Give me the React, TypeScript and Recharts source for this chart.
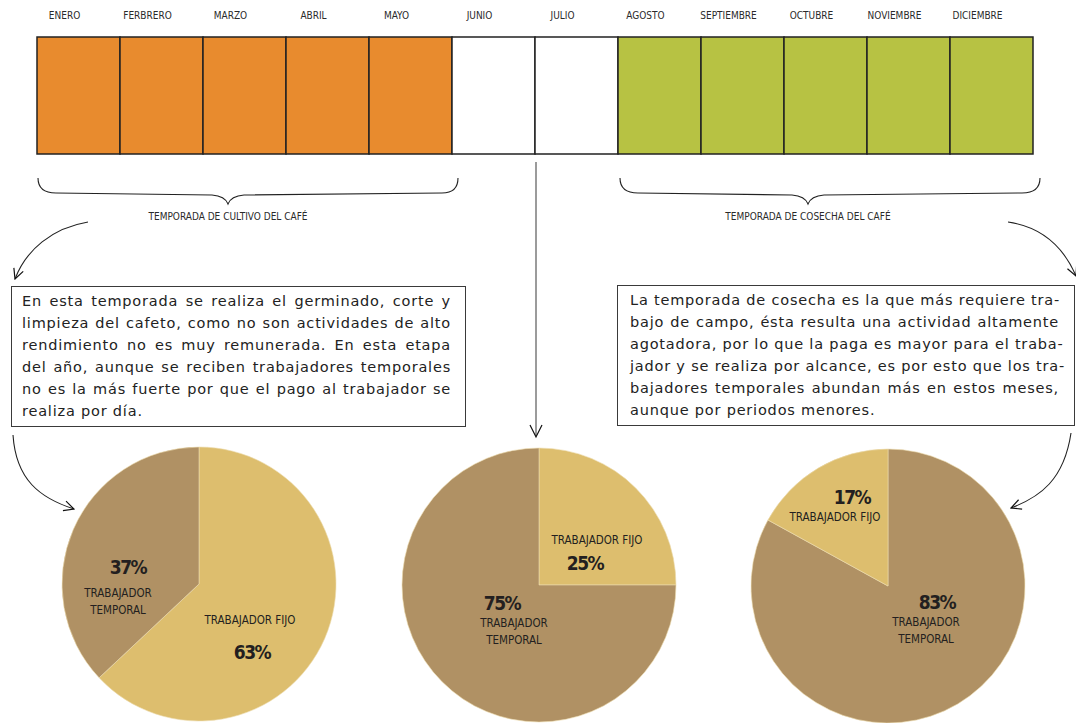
import { Bar, BarChart, Cell, Pie, PieChart, XAxis, YAxis } from "recharts";

// meses y temporada de cada uno
const months = [
  "ENERO", "FERBRERO", "MARZO", "ABRIL", "MAYO", "JUNIO",
  "JULIO", "AGOSTO", "SEPTIEMBRE", "OCTUBRE", "NOVIEMBRE", "DICIEMBRE"
];
const monthSeason = [
  "cultivo", "cultivo", "cultivo", "cultivo", "cultivo", "ninguna",
  "ninguna", "cosecha", "cosecha", "cosecha", "cosecha", "cosecha"
];
const monthSpan = [1, 1, 1, 1, 1, 1, 1, 1, 1, 1, 1, 1];

const workerTypes = ["TRABAJADOR FIJO", "TRABAJADOR TEMPORAL"];
const cultivoShare = [63, 37];
const transicionShare = [25, 75];
const cosechaShare = [17, 83];

const seasonLabels = ["TEMPORADA DE CULTIVO DEL CAFÉ", "TEMPORADA DE COSECHA DEL CAFÉ"];

const cultivoText = [
  "En esta temporada se realiza el germinado, corte y",
  "limpieza del cafeto, como no son actividades de alto",
  "rendimiento no es muy remunerada. En esta etapa",
  "del año, aunque se reciben trabajadores temporales",
  "no es la más fuerte por que el pago al trabajador se",
  "realiza por día."
];
const cosechaText = [
  "La temporada de cosecha es la que más requiere tra-",
  "bajo de campo, ésta resulta una actividad altamente",
  "agotadora, por lo que la paga es mayor para el traba-",
  "jador y se realiza por alcance, es por esto que los tra-",
  "bajadores temporales abundan más en estos meses,",
  "aunque por periodos menores."
];

const seasonColor: Record<string, string> = {
  cultivo: "#e88b2e",
  ninguna: "#ffffff",
  cosecha: "#b7c243"
};
const FIJO = "#ddbe6e";
const TEMPORAL = "#b09164";
const HAND = '"DejaVu Sans Condensed", "Liberation Sans Narrow", sans-serif';
const BODY = '"DejaVu Sans", "Liberation Sans", sans-serif';

const monthData = months.map((m, i) => ({ month: m, span: monthSpan[i], season: monthSeason[i] }));

function pieData(share: number[], fijoFirst: boolean) {
  const rows = workerTypes.map((name, i) => ({ name, value: share[i], fill: i === 0 ? FIJO : TEMPORAL }));
  return fijoFirst ? rows : rows.slice().reverse();
}

const pies = [
  {
    key: "cultivo", cx: 199, cy: 144, data: pieData(cultivoShare, true),
    // desplazamientos de las etiquetas respecto al centro: [nombre, porcentaje]
    labels: { "TRABAJADOR FIJO": [[51, 36], [53, 68]], "TRABAJADOR TEMPORAL": [[-81, 9], [-71, -17]] }
  },
  {
    key: "transicion", cx: 539, cy: 145, data: pieData(transicionShare, true),
    labels: { "TRABAJADOR FIJO": [[58, -45], [46, -22]], "TRABAJADOR TEMPORAL": [[-25, 38], [-37, 18]] }
  },
  {
    key: "cosecha", cx: 888, cy: 146, data: pieData(cosechaShare, false),
    labels: { "TRABAJADOR FIJO": [[-53, -69], [-36, -89]], "TRABAJADOR TEMPORAL": [[38, 36], [49, 16]] }
  }
];

const nameLines: Record<string, string[]> = {
  "TRABAJADOR FIJO": ["TRABAJADOR  FIJO"],
  "TRABAJADOR TEMPORAL": ["TRABAJADOR", "TEMPORAL"]
};

function MonthTick(props: any) {
  const { x, y, payload } = props;
  return (
    <text x={x - 14} y={y - 16} textAnchor="middle" fontFamily={HAND} fontSize={10} fill="#2a2a2a">
      {payload.value}
    </text>
  );
}

function makeLabel(pie: any) {
  return (props: any) => {
    const name = props.name ?? props.payload?.name;
    const cx = props.cx ?? pie.cx;
    const cy = props.cy ?? pie.cy;
    const [nameOff, pctOff] = pie.labels[name];
    const lines = nameLines[name];
    return (
      <g fill="#231f20" fontFamily={HAND}>
        <text x={cx + pctOff[0]} y={cy + pctOff[1] + 7} textAnchor="middle" fontSize={19} fontWeight="bold" letterSpacing={-1.5}>
          {props.value}%
        </text>
        {lines.map((l, i) => (
          <text key={l} x={cx + nameOff[0]} y={cy + nameOff[1] + 4 + i * 17} textAnchor="middle" fontSize={11.5}>
            {l}
          </text>
        ))}
      </g>
    );
  };
}

function TextBox({ lines, left, top, width, padLeft, padRight }: any) {
  return (
    <div
      style={{
        position: "absolute", left, top, width, height: 141, boxSizing: "border-box",
        border: "1px solid #3a3a3a", paddingLeft: padLeft, paddingRight: padRight, paddingTop: 3,
        fontFamily: BODY, fontSize: 14.5, letterSpacing: 0.8, lineHeight: "22px", color: "#222", background: "#fff"
      }}
    >
      {lines.map((l: string, i: number) => (
        <div
          key={i}
          style={{
            textAlign: "justify",
            textAlignLast: i === lines.length - 1 ? "left" : "justify",
            whiteSpace: "nowrap"
          } as any}
        >
          {l}
        </div>
      ))}
    </div>
  );
}

export default function App() {
  return (
    <div style={{ position: "absolute", left: 0, top: 0, width: 1076, height: 723, overflow: "hidden", background: "#fff" }}>
      <div style={{ position: "absolute", left: 0, top: 0 }}>
        <BarChart width={1076} height={160} data={monthData} margin={{ top: 7, left: 37, right: 43, bottom: 6 }} barCategoryGap={0}>
          <XAxis dataKey="month" orientation="top" height={30} axisLine={false} tickLine={false} tickSize={0} interval={0} tick={<MonthTick />} />
          <YAxis hide domain={[0, 1]} />
          <Bar dataKey="span" isAnimationActive={false} stroke="#222" strokeWidth={1.5}>
            {monthData.map((d) => (
              <Cell key={d.month} fill={seasonColor[d.season]} />
            ))}
          </Bar>
        </BarChart>
      </div>

      <div style={{ position: "absolute", left: 0, top: 440 }}>
        <PieChart width={1076} height={283} margin={{ top: 0, right: 0, bottom: 0, left: 0 }}>
          {pies.map((p) => (
            <Pie
              key={p.key}
              data={p.data}
              dataKey="value"
              nameKey="name"
              cx={p.cx}
              cy={p.cy}
              outerRadius={137}
              startAngle={90}
              endAngle={-270}
              stroke="#ecdcae"
              strokeWidth={0.6}
              isAnimationActive={false}
              labelLine={false}
              label={makeLabel(p)}
            >
              {p.data.map((d) => (
                <Cell key={d.name} fill={d.fill} />
              ))}
            </Pie>
          ))}
        </PieChart>
      </div>

      <svg width={1076} height={723} style={{ position: "absolute", left: 0, top: 0, pointerEvents: "none" }}>
        <defs>
          <marker id="head" viewBox="0 0 12 12" refX="11" refY="6" markerWidth="12" markerHeight="12" markerUnits="userSpaceOnUse" orient="auto">
            <path d="M1 1 L11 6 L1 11" fill="none" stroke="#111" strokeWidth={1.2} />
          </marker>
        </defs>
        <g fill="none" stroke="#222" strokeWidth={1.1}>
          <path d="M38 178 Q38 193 56 193 L212 195 Q225 196 228 204 Q231 196 244 195 L442 193 Q458 193 458 178" />
          <path d="M620 178 Q620 193 638 193 L792 195 Q805 196 808 204 Q811 196 824 195 L1022 193 Q1040 193 1040 178" />
          <path d="M88 222 C52 228 26 250 15 279" markerEnd="url(#head)" />
          <path d="M13 435 C16 480 40 498 74 509" markerEnd="url(#head)" />
          <path d="M1008 222 C1042 227 1064 248 1076 276" markerEnd="url(#head)" />
          <path d="M1071 433 C1064 480 1040 497 1011 508" markerEnd="url(#head)" />
        </g>
        <line x1={536} y1={162} x2={536} y2={436} stroke="#7a7a7a" strokeWidth={1.5} />
        <path d="M530 425 L536 437 L542 425" fill="none" stroke="#111" strokeWidth={1.2} />
        <text x={228} y={220} textAnchor="middle" fontFamily={HAND} fontSize={10} fill="#2a2a2a">{seasonLabels[0]}</text>
        <text x={808} y={220} textAnchor="middle" fontFamily={HAND} fontSize={10} fill="#2a2a2a">{seasonLabels[1]}</text>
      </svg>

      <TextBox lines={cultivoText} left={11} top={286} width={455} padLeft={10} padRight={14} />
      <TextBox lines={cosechaText} left={617} top={285} width={458} padLeft={12} padRight={15} />
    </div>
  );
}
